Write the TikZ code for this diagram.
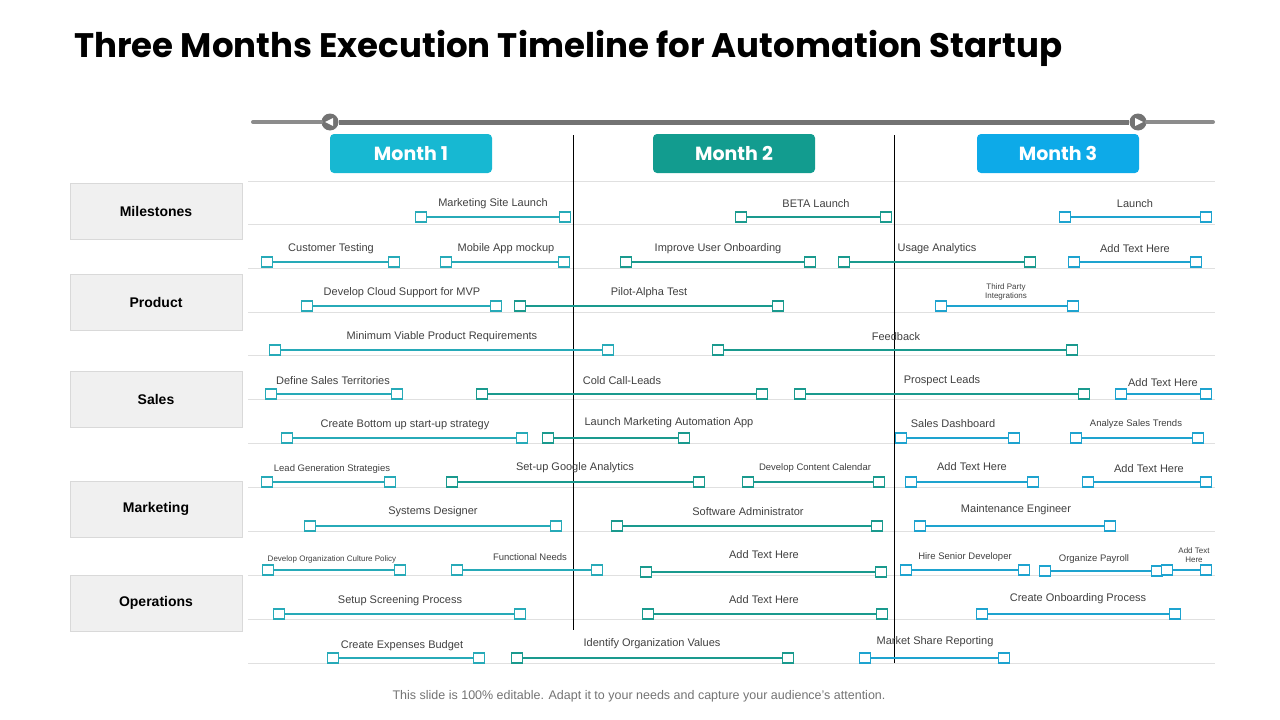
\documentclass[tikz,border=0pt]{standalone}
\usepackage{fontspec}
\setmainfont{Liberation Sans}
\newfontfamily\popp{Poppins}
\definecolor{cA}{HTML}{27AAB8}
\definecolor{cB}{HTML}{1A9A8E}
\definecolor{cC}{HTML}{1EA3CF}
\definecolor{mA}{HTML}{17B8D2}
\definecolor{mB}{HTML}{129C8F}
\definecolor{mC}{HTML}{0DAAE8}
\definecolor{txt}{HTML}{404040}
\tikzset{
 sq/.style={draw=#1,line width=1.6pt,fill=white,minimum width=11pt,minimum height=10pt,inner sep=0pt},
 lab/.style={text=txt,font=\fontsize{11}{13}\selectfont,inner sep=0pt},
 labs/.style={text=txt,font=\fontsize{9.5}{11}\selectfont,inner sep=0pt,align=center},
 labt/.style={text=txt,font=\fontsize{8}{9}\selectfont,inner sep=0pt,align=center},
 side/.style={draw=black!15,fill=black!6,minimum width=172pt,minimum height=56pt,font=\bfseries\fontsize{14}{16}\selectfont,inner sep=0pt},
 month/.style={fill=#1,rounded corners=4pt,minimum width=162pt,minimum height=39pt,text=white,font=\popp\bfseries\fontsize{19}{22}\selectfont,inner sep=0pt},
}
\newcounter{bn}
\newcommand{\tb}[8]{\stepcounter{bn}%
 \node[sq=#7] (s\thebn) at (#1,#3) {};
 \node[sq=#7] (e\thebn) at (#2,#3) {};
 \draw[#7,line width=2.4pt] (s\thebn.east) -- (e\thebn.west);
 \node[#8] (l\thebn) at (#5,#6) {#4};}
\begin{document}
\begin{tikzpicture}[x=1pt,y=-1pt]
\useasboundingbox (0,0) rectangle (1280,720);
\node[anchor=west,font=\popp\bfseries\fontsize{34}{38}\selectfont,inner sep=0pt] (title) at (74,48) {Three Months Execution Timeline for Automation Startup};
% grid lines
\foreach \y in {181,224,268,312,355,399,443,487,531,575,619,663}
  \draw[black!12,line width=1pt] (248,\y) -- (1215,\y);
% slider
\coordinate (sl) at (253,122); \coordinate (sr) at (1213,122);
\node[circle,fill=black!55,minimum size=17pt,inner sep=0pt] (k1) at (330,122) {};
\node[circle,fill=black!55,minimum size=17pt,inner sep=0pt] (k2) at (1138,122) {};
\draw[black!45,line width=4pt,line cap=round] (sl) -- (k1);
\draw[black!45,line width=4pt,line cap=round] (k2) -- (sr);
\draw[black!55,line width=5pt] (k1) -- (k2);
\fill[white] (325,122) -- (333,118) -- (333,126) -- cycle;
\fill[white] (1143,122) -- (1135,118) -- (1135,126) -- cycle;
% months
\node[month=mA] (m1) at (411,153.5) {Month 1};
\node[month=mB] (m2) at (734,153.5) {Month 2};
\node[month=mC] (m3) at (1058,153.5) {Month 3};
\coordinate (v1t) at (573,135); \coordinate (v1b) at (573,630);
\coordinate (v2t) at (894,135); \coordinate (v2b) at (894,663);
\draw[black,line width=1pt] (v1t) -- (v1b);
\draw[black,line width=1pt] (v2t) -- (v2b);
% side labels
\node[side] (n1) at (156,211) {Milestones};
\node[side] (n2) at (156,302) {Product};
\node[side] (n3) at (156,399) {Sales};
\node[side] (n4) at (156,509) {Marketing};
\node[side] (n5) at (156,603) {Operations};
% bars
\tb{421}{565}{217}{Marketing Site Launch}{493}{204}{cA}{lab}
\tb{741}{886}{217}{BETA Launch}{816}{204}{cB}{lab}
\tb{1065}{1206}{217}{Launch}{1135}{204}{cC}{lab}
\tb{267}{394}{262}{Customer Testing}{331}{249}{cA}{lab}
\tb{446}{564}{262}{Mobile App mockup}{506}{249}{cA}{lab}
\tb{626}{810}{262}{Improve User Onboarding}{718}{249}{cB}{lab}
\tb{844}{1030}{262}{Usage Analytics}{937}{249}{cB}{lab}
\tb{1074}{1196}{262}{Add Text Here}{1135}{249}{cC}{lab}
\tb{307}{496}{306}{Develop Cloud Support for MVP}{402}{293}{cA}{lab}
\tb{520}{778}{306}{Pilot-Alpha Test}{649}{293}{cB}{lab}
\tb{941}{1073}{306}{Third Party\\Integrations}{1006}{292}{cC}{labt}
\tb{275}{608}{350}{Minimum Viable Product Requirements}{442}{337}{cA}{lab}
\tb{718}{1072}{350}{Feedback}{896}{337}{cB}{lab}
\tb{271}{397}{394}{Define Sales Territories}{333}{381}{cA}{lab}
\tb{482}{762}{394}{Cold Call-Leads}{622}{381}{cB}{lab}
\tb{800}{1084}{394}{Prospect Leads}{942}{381}{cB}{lab}
\tb{1121}{1206}{394}{Add Text Here}{1163}{383}{cC}{lab}
\tb{287}{522}{438}{Create Bottom up start-up strategy}{405}{425}{cA}{lab}
\tb{548}{684}{438}{Launch Marketing Automation App}{669}{423}{cB}{lab}
\tb{901}{1014}{438}{Sales Dashboard}{953}{424}{cC}{lab}
\tb{1076}{1198}{438}{Analyze Sales Trends}{1136}{424}{cC}{labs}
\tb{267}{390}{482}{Lead Generation Strategies}{332}{469}{cA}{labs}
\tb{452}{699}{482}{Set-up Google Analytics}{575}{468}{cB}{lab}
\tb{748}{879}{482}{Develop Content Calendar}{815}{468}{cB}{labs}
\tb{911}{1033}{482}{Add Text Here}{972}{467}{cC}{lab}
\tb{1088}{1206}{482}{Add Text Here}{1149}{469}{cC}{lab}
\tb{310}{556}{526}{Systems Designer}{433}{512}{cA}{lab}
\tb{617}{877}{526}{Software Administrator}{748}{512}{cB}{lab}
\tb{920}{1110}{526}{Maintenance Engineer}{1016}{510}{cC}{lab}
\tb{268}{400}{570}{Develop Organization Culture Policy}{332}{559}{cA}{labt}
\tb{457}{597}{570}{Functional Needs}{530}{557}{cA}{labs}
\tb{646}{881}{572}{Add Text Here}{764}{555}{cB}{lab}
\tb{906}{1024}{570}{Hire Senior Developer}{965}{557}{cC}{labs}
\tb{1045}{1157}{571}{Organize Payroll}{1094}{559}{cC}{labs}
\tb{1167}{1206}{570}{Add Text\\Here}{1194}{555}{cC}{labt}
\tb{279}{520}{614}{Setup Screening Process}{400}{601}{cA}{lab}
\tb{648}{882}{614}{Add Text Here}{764}{600}{cB}{lab}
\tb{982}{1175}{614}{Create Onboarding Process}{1078}{599}{cC}{lab}
\tb{333}{479}{658}{Create Expenses Budget}{402}{646}{cA}{lab}
\tb{517}{788}{658}{Identify Organization Values}{652}{644}{cB}{lab}
\tb{865}{1004}{658}{Market Share Reporting}{935}{642}{cC}{lab}
\node[text=black!55,font=\fontsize{12.5}{14}\selectfont] (foot) at (639,696) {This slide is 100\% editable. Adapt it to your needs and capture your audience's attention.};
\end{tikzpicture}
\end{document}
